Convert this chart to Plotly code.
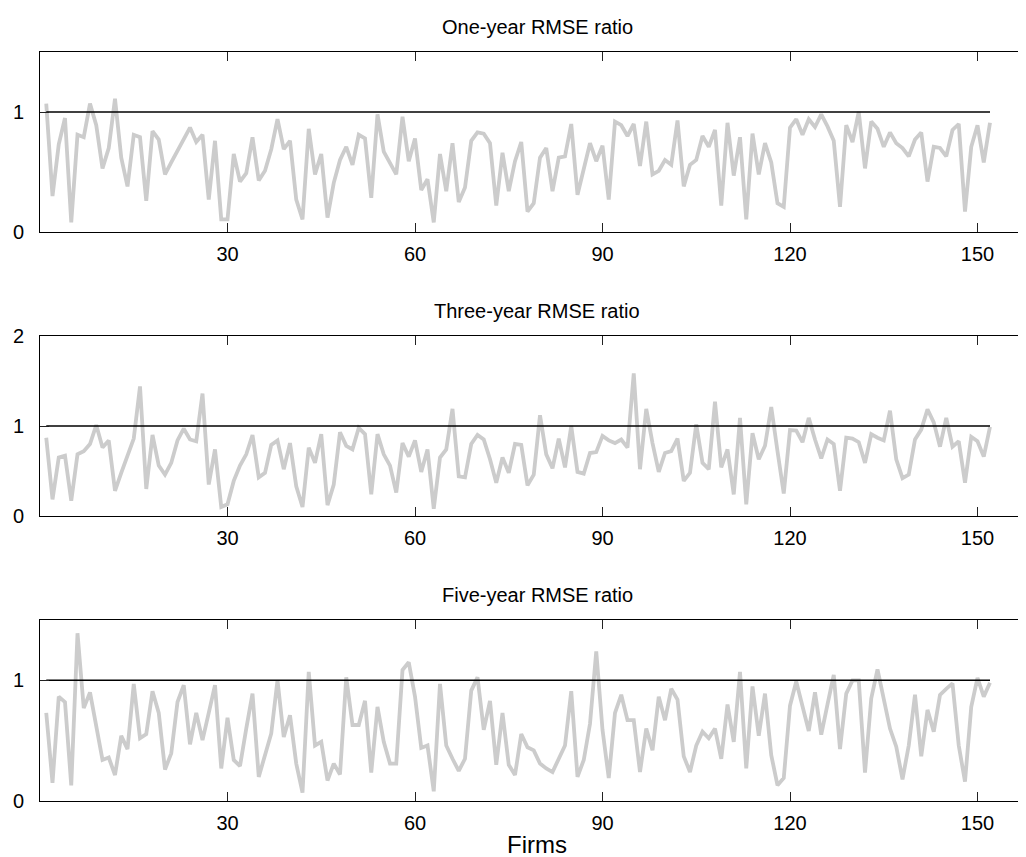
import plotly.graph_objects as go

firms = list(range(1, 153))

one_year = [1.07, 0.30, 0.73, 0.95, 0.08, 0.81, 0.79, 1.07, 0.89, 0.53,
            0.70, 1.11, 0.62, 0.38, 0.81, 0.79, 0.26, 0.84, 0.77, 0.48,
            0.58, 0.68, 0.78, 0.87, 0.75, 0.81, 0.27, 0.76, 0.105, 0.105,
            0.65, 0.42, 0.49, 0.79, 0.43, 0.51, 0.69, 0.94, 0.69, 0.76,
            0.27, 0.105, 0.86, 0.48, 0.65, 0.12, 0.41, 0.60, 0.71, 0.56,
            0.81, 0.78, 0.285, 0.98, 0.67, 0.58, 0.48, 0.96, 0.59, 0.78,
            0.35, 0.44, 0.08, 0.65, 0.34, 0.74, 0.25, 0.37, 0.76, 0.83,
            0.82, 0.74, 0.22, 0.66, 0.34, 0.59, 0.75, 0.17, 0.24, 0.62,
            0.70, 0.34, 0.62, 0.63, 0.90, 0.31, 0.52, 0.74, 0.59, 0.72,
            0.27, 0.92, 0.89, 0.80, 0.90, 0.55, 0.92, 0.48, 0.51, 0.60,
            0.56, 0.93, 0.38, 0.56, 0.60, 0.80, 0.71, 0.85, 0.22, 0.91,
            0.47, 0.79, 0.105, 0.82, 0.48, 0.74, 0.58, 0.24, 0.21, 0.87,
            0.94, 0.81, 0.94, 0.875, 0.98, 0.88, 0.76, 0.21, 0.89, 0.75,
            1.0, 0.53, 0.92, 0.86, 0.71, 0.83, 0.74, 0.70, 0.63, 0.77,
            0.83, 0.42, 0.71, 0.70, 0.63, 0.85, 0.90, 0.17, 0.71, 0.89,
            0.58, 0.91]

three_year = [0.87, 0.185, 0.65, 0.67, 0.17, 0.685, 0.72, 0.80, 1.01, 0.76,
              0.84, 0.28, 0.48, 0.67, 0.86, 1.44, 0.30, 0.90, 0.56, 0.46,
              0.59, 0.84, 0.97, 0.85, 0.83, 1.36, 0.35, 0.74, 0.10, 0.13,
              0.39, 0.56, 0.685, 0.90, 0.43, 0.48, 0.79, 0.84, 0.52, 0.81,
              0.33, 0.10, 0.76, 0.59, 0.91, 0.12, 0.35, 0.93, 0.78, 0.74,
              0.98, 0.91, 0.24, 0.91, 0.685, 0.56, 0.26, 0.81, 0.66, 0.84,
              0.49, 0.74, 0.08, 0.65, 0.74, 1.19, 0.44, 0.43, 0.80, 0.90,
              0.85, 0.63, 0.37, 0.65, 0.48, 0.80, 0.79, 0.34, 0.46, 1.12,
              0.685, 0.53, 0.86, 0.54, 1.0, 0.49, 0.47, 0.70, 0.71, 0.89,
              0.84, 0.81, 0.85, 0.76, 1.585, 0.52, 1.19, 0.81, 0.49, 0.70,
              0.72, 0.86, 0.39, 0.48, 1.02, 0.59, 0.52, 1.27, 0.54, 0.74,
              0.24, 1.09, 0.13, 0.92, 0.63, 0.78, 1.21, 0.72, 0.25, 0.955,
              0.95, 0.82, 1.09, 0.85, 0.64, 0.85, 0.80, 0.28, 0.87, 0.86,
              0.82, 0.59, 0.91, 0.87, 0.84, 1.17, 0.63, 0.42, 0.46, 0.85,
              0.96, 1.185, 1.04, 0.77, 1.09, 0.77, 0.83, 0.37, 0.88, 0.83,
              0.66, 0.99]

five_year = [0.73, 0.15, 0.865, 0.82, 0.13, 1.39, 0.77, 0.90, 0.62, 0.34,
             0.36, 0.215, 0.54, 0.43, 0.97, 0.52, 0.555, 0.91, 0.73, 0.26,
             0.395, 0.82, 0.96, 0.47, 0.73, 0.505, 0.73, 0.96, 0.27, 0.69,
             0.34, 0.29, 0.60, 0.89, 0.20, 0.37, 0.56, 1.0, 0.53, 0.71,
             0.31, 0.07, 1.07, 0.46, 0.49, 0.17, 0.31, 0.22, 1.025, 0.63,
             0.63, 0.83, 0.235, 0.78, 0.49, 0.31, 0.31, 1.085, 1.15, 0.865,
             0.44, 0.46, 0.08, 0.97, 0.46, 0.35, 0.25, 0.35, 0.915, 1.025,
             0.59, 0.83, 0.30, 0.73, 0.30, 0.215, 0.555, 0.445, 0.42, 0.31,
             0.27, 0.24, 0.35, 0.46, 0.91, 0.20, 0.34, 0.64, 1.24, 0.59,
             0.19, 0.73, 0.88, 0.67, 0.67, 0.24, 0.60, 0.42, 0.865, 0.67,
             0.93, 0.84, 0.37, 0.24, 0.46, 0.575, 0.52, 0.60, 0.35, 0.80,
             0.49, 1.07, 0.27, 0.95, 0.54, 0.89, 0.38, 0.13, 0.19, 0.79,
             0.99, 0.77, 0.58, 0.90, 0.55, 0.80, 1.045, 0.43, 0.89, 1.0,
             1.0, 0.235, 0.85, 1.09, 0.85, 0.60, 0.45, 0.18, 0.46, 0.88,
             0.37, 0.755, 0.575, 0.88, 0.93, 0.975, 0.46, 0.16, 0.78, 1.02,
             0.865, 0.98]

titles = ["One-year RMSE ratio", "Three-year RMSE ratio", "Five-year RMSE ratio"]
y_ranges = [[0, 1.5], [0, 2], [0, 1.5]]
y_ticks = [[0, 1], [0, 1, 2], [0, 1]]
x_ticks = [30, 60, 90, 120, 150]
x_range = [0, 159.04]
ref_level = 1
xlabel = "Firms"

W, H = 1026, 857
panels_px = [(44, 224), (328, 508), (612, 793)]
font_family = "Arial, Liberation Sans, sans-serif"

series = [one_year, three_year, five_year]
fig = go.Figure()
for k, vals in enumerate(series):
    ax = "" if k == 0 else str(k + 1)
    fig.add_trace(go.Scatter(x=firms, y=vals, mode="lines",
                             line=dict(color="rgb(204,204,204)", width=3.8),
                             xaxis="x" + ax, yaxis="y" + ax, showlegend=False,
                             hoverinfo="skip"))
    fig.add_trace(go.Scatter(x=[firms[0], firms[-1]], y=[ref_level, ref_level], mode="lines",
                             line=dict(color="black", width=1.5),
                             xaxis="x" + ax, yaxis="y" + ax, showlegend=False,
                             hoverinfo="skip"))

layout = dict(width=W, height=H, margin=dict(l=32, r=0, t=0, b=0, autoexpand=False),
              paper_bgcolor="white", plot_bgcolor="white",
              font=dict(family=font_family, size=20, color="black"))
annotations = []
for k, (top, bot) in enumerate(panels_px):
    ax = "" if k == 0 else str(k + 1)
    dom = [1 - bot / H, 1 - top / H]
    layout["xaxis" + ax] = dict(range=x_range, tickvals=x_ticks, ticks="inside", ticklen=9,
                                tickcolor="#222", showline=True, linecolor="black", linewidth=1,
                                mirror="ticks", showgrid=False, zeroline=False,
                                anchor="y" + ax, domain=[0, 1], ticklabelstandoff=4,
                                tickfont=dict(size=20))
    layout["yaxis" + ax] = dict(range=y_ranges[k], tickvals=y_ticks[k], ticks="inside", ticklen=9,
                                tickcolor="#222", showline=True, linecolor="black", linewidth=1,
                                mirror=False, showgrid=False, zeroline=False,
                                anchor="x" + ax, domain=dom, ticklabelstandoff=11,
                                tickfont=dict(size=20))
    rid = str(k + 4)
    layout["yaxis" + rid] = dict(range=y_ranges[k], tickvals=y_ticks[k], ticks="inside", ticklen=5,
                                 tickcolor="#222", showline=False, showgrid=False, zeroline=False,
                                 showticklabels=False, overlaying="y" + ax, side="right",
                                 anchor="x" + ax)
    annotations.append(dict(text=titles[k], x=0.5, y=1 - (top - 25) / H, xref="paper", yref="paper",
                            showarrow=False, font=dict(size=20), xanchor="center", yanchor="middle"))
annotations.append(dict(text=xlabel, x=0.5, y=1 - 836 / H, xref="paper", yref="paper",
                        showarrow=False, font=dict(size=24), xanchor="center", yanchor="middle"))
layout["annotations"] = annotations
fig.update_layout(**layout)
fig.write_html("out.html")
